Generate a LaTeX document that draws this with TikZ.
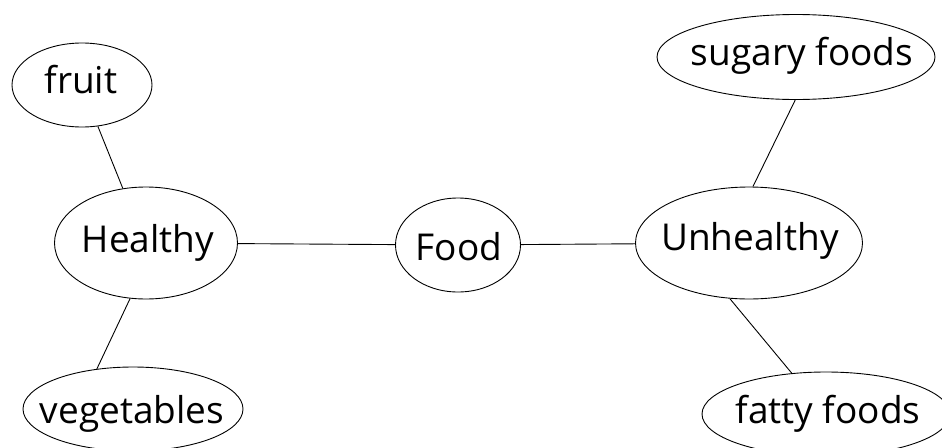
\documentclass[tikz,border=0pt]{standalone}
\usepackage{fontspec}
\setmainfont{Open Sans}
\usetikzlibrary{shapes.geometric}
\begin{document}
\begin{tikzpicture}[x=1pt,y=-1pt,
  bubble/.style={ellipse,draw=black,line width=0.9pt,inner sep=0pt},
  word/.style={anchor=base,inner sep=0pt,font=\fontsize{37}{40}\selectfont},
  link/.style={draw=black,line width=0.9pt}]
\useasboundingbox (0,0) rectangle (942,447);
\node[bubble,minimum width=140,minimum height=84] (fruit) at (82,85) {};
\node[bubble,minimum width=183,minimum height=112] (healthy) at (146,243) {};
\node[bubble,minimum width=220,minimum height=84] (veg) at (133,409) {};
\node[bubble,minimum width=125,minimum height=94] (food) at (458,245) {};
\node[bubble,minimum width=227,minimum height=112] (unhealthy) at (749,243) {};
\node[bubble,minimum width=278,minimum height=85] (sugary) at (796,57) {};
\node[bubble,minimum width=248,minimum height=84] (fatty) at (826,414) {};
\node[word] (fruitT) at (81,93) {fruit};
\node[word] (healthyT) at (148,252) {Healthy};
\node[word] (vegT) at (132,423) {vegetables};
\node[word] (foodT) at (459,260) {Food};
\node[word] (unhealthyT) at (750,250) {Unhealthy};
\node[word] (sugaryT) at (802,65) {sugary foods};
\node[word] (fattyT) at (828,423) {fatty foods};
\path[link] (fruit.-69) -- (healthy.113);
\path[link] (healthy.-106) -- (veg.132);
\path[link] (healthy) -- (food);
\path[link] (food) -- (unhealthy);
\path[link] (unhealthy.86) -- (sugary.-91);
\path[link] (unhealthy.-109) -- (fatty.130);
\end{tikzpicture}
\end{document}
